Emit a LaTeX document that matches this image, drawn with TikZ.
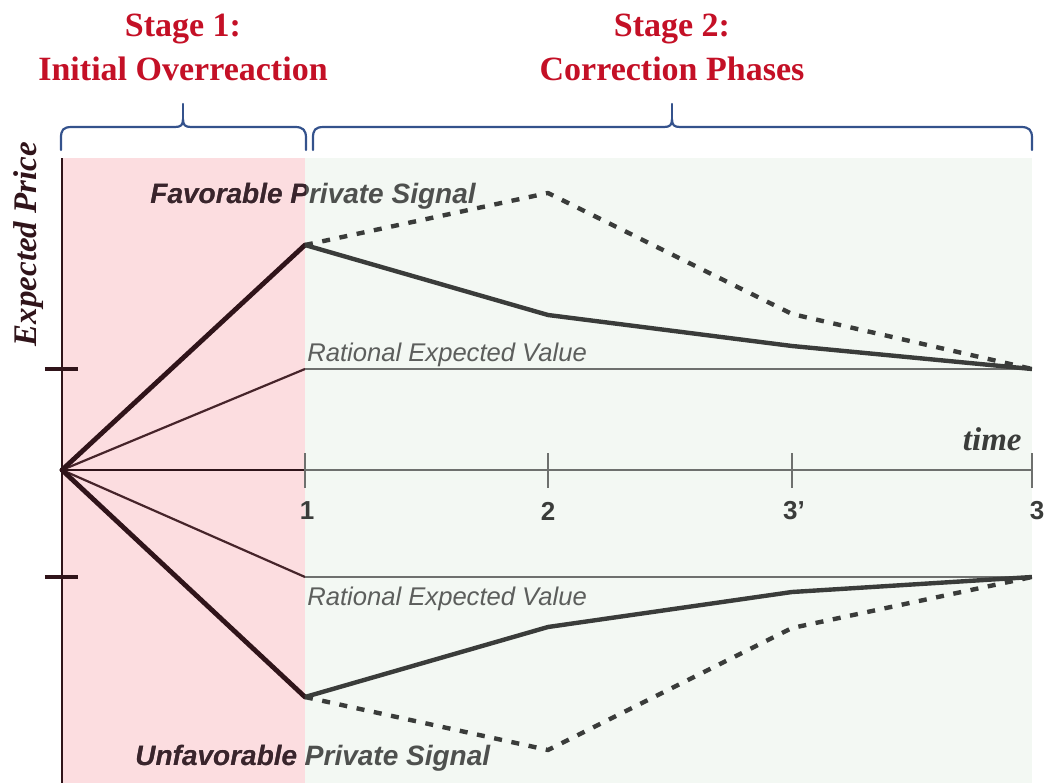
\documentclass[tikz,border=0pt]{standalone}
\usepackage{fontspec}
\setmainfont{Liberation Serif}
\setsansfont{Liberation Sans}
\definecolor{pinkzone}{RGB}{252,221,224}
\definecolor{greenzone}{RGB}{243,248,243}
\definecolor{stagered}{RGB}{196,16,38}
\definecolor{braceblue}{RGB}{52,82,140}
\definecolor{inkpink}{RGB}{48,20,26}
\definecolor{inkgreen}{RGB}{58,60,58}
\definecolor{thinpink}{RGB}{70,36,42}
\definecolor{thingreen}{RGB}{110,112,110}
\definecolor{labelgray}{RGB}{92,94,92}
\definecolor{signalgray}{RGB}{78,80,78}
\definecolor{signaldark}{RGB}{58,36,44}
\begin{document}
\begin{tikzpicture}[x=0.5bp,y=-0.5bp,
  brace/.style={draw=braceblue,line width=1.1bp,line cap=round,line join=round},
  stagetitle/.style={text=stagered,font=\fontsize{17bp}{22bp}\selectfont\bfseries,align=center,inner sep=0pt},
  axisline/.style={draw=inkpink,line width=1bp},
  pricetick/.style={draw=inkpink,line width=2bp},
  timetick/.style={draw=thingreen,line width=1bp},
  overreact/.style={draw=inkpink,line width=2.4bp,line cap=round,line join=round},
  rationalin/.style={draw=thinpink,line width=1.1bp},
  rationalout/.style={draw=thingreen,line width=1.2bp},
  pathsolid/.style={draw=inkgreen,line width=2.2bp,line join=round},
  pathdashed/.style={draw=inkgreen,line width=2.2bp,dash pattern=on 4bp off 4.8bp,line join=round},
  signal/.style={font=\fontsize{14bp}{16bp}\selectfont\sffamily\bfseries\itshape,inner sep=0pt,anchor=base west},
  rational/.style={text=labelgray,font=\fontsize{12.8bp}{15bp}\selectfont\sffamily\itshape,inner sep=0pt,anchor=base west},
  ticklabel/.style={text=inkgreen,font=\fontsize{13bp}{15bp}\selectfont\sffamily\bfseries,inner sep=0pt},
  axistitle/.style={text=inkpink,font=\fontsize{16.5bp}{18bp}\selectfont\bfseries\itshape,inner sep=0pt}
]
\useasboundingbox (0,0) rectangle (1044,783);

% stage backgrounds
\fill[pinkzone] (62,158) rectangle (305,783);
\fill[greenzone] (305,158) rectangle (1032,783);

% stage titles
\node[stagetitle] (stageone) at (183,47) {Stage 1:\\Initial Overreaction};
\node[stagetitle] (stagetwo) at (672,47) {Stage 2:\\Correction Phases};

% braces under the titles
\draw[brace] (61,150) -- (61,138) .. controls (61,130) and (63,127) .. (72,127)
  -- (175,127) .. controls (181,127) and (183,125) .. (183,119)
  .. controls (183,125) and (185,127) .. (191,127)
  -- (295,127) .. controls (303,127) and (306,130) .. (306,138) -- (306,150);
\draw[brace] (183,119) -- (183,104);
\draw[brace] (313,150) -- (313,138) .. controls (313,130) and (315,127) .. (324,127)
  -- (664,127) .. controls (670,127) and (672,125) .. (672,119)
  .. controls (672,125) and (674,127) .. (680,127)
  -- (1021,127) .. controls (1029,127) and (1032,130) .. (1032,138) -- (1032,150);
\draw[brace] (672,119) -- (672,104);

% key points
\coordinate (O) at (62,470);
\coordinate (Ytop) at (62,158);
\coordinate (Ybot) at (62,783);
\coordinate (T1) at (305,470);
\coordinate (T2) at (548,470);
\coordinate (T3p) at (792,470);
\coordinate (T3) at (1032,470);
\coordinate (Hi) at (62,369);
\coordinate (Lo) at (62,577);
\coordinate (RU1) at (305,369);
\coordinate (RL1) at (305,577);
\coordinate (EU) at (1032,369);
\coordinate (EL) at (1032,577);
\coordinate (U1) at (305,245);
\coordinate (U2s) at (548,315);
\coordinate (U3s) at (792,346);
\coordinate (U2d) at (548,193);
\coordinate (U3d) at (792,314);
\coordinate (L1) at (305,697);
\coordinate (L2s) at (548,627);
\coordinate (L3s) at (792,592);
\coordinate (L2d) at (548,750);
\coordinate (L3d) at (792,628);

% axes
\draw[axisline] (Ytop) -- (Ybot);
\draw[axisline] (O) -- (T1);
\draw[timetick] (T1) -- (T3);
\foreach \t in {T1,T2,T3p,T3} \draw[timetick] ([yshift=8.5bp]\t) -- ([yshift=-9bp]\t);
\draw[pricetick] ([xshift=-8.5bp]Hi) -- ([xshift=8bp]Hi);
\draw[pricetick] ([xshift=-8.5bp]Lo) -- ([xshift=8bp]Lo);

% rational expectation paths
\draw[rationalin] (O) -- (RU1);
\draw[rationalout] (RU1) -- (EU);
\draw[rationalin] (O) -- (RL1);
\draw[rationalout] (RL1) -- (EL);

% overreaction and correction paths
\draw[overreact] (O) -- (U1);
\draw[overreact] (O) -- (L1);
\draw[pathsolid] (U1) -- (U2s) -- (U3s) -- (EU);
\draw[pathdashed] (U1) -- (U2d) -- (U3d) -- (EU);
\draw[pathsolid] (L1) -- (L2s) -- (L3s) -- (EL);
\draw[pathdashed] (L1) -- (L2d) -- (L3d) -- (EL);

% labels
\node[rational] (ratup) at (307,361) {Rational Expected Value};
\node[rational] (ratdown) at (307,605) {Rational Expected Value};

\node[signal,text=signalgray] (favsig) at (150,203) {Favorable Private Signal};
\node[signal,text=signalgray] (unfavsig) at (135,765) {Unfavorable Private Signal};
\begin{scope}
  \clip (62,158) rectangle (305,783);
  \node[signal,text=signaldark] (favsigpink) at (150,203) {Favorable Private Signal};
  \node[signal,text=signaldark] (unfavsigpink) at (135,765) {Unfavorable Private Signal};
\end{scope}

\node[ticklabel] (lab1) at (307,511) {1};
\node[ticklabel] (lab2) at (548,511) {2};
\node[ticklabel] (lab3p) at (794,511) {3'};
\node[ticklabel] (lab3) at (1037,511) {3};

\node[axistitle,text=inkgreen,anchor=base east] (timelab) at (1022,450) {time};
\node[axistitle,rotate=90,anchor=base] (pricelab) at (36,244) {Expected Price};
\end{tikzpicture}
\end{document}
